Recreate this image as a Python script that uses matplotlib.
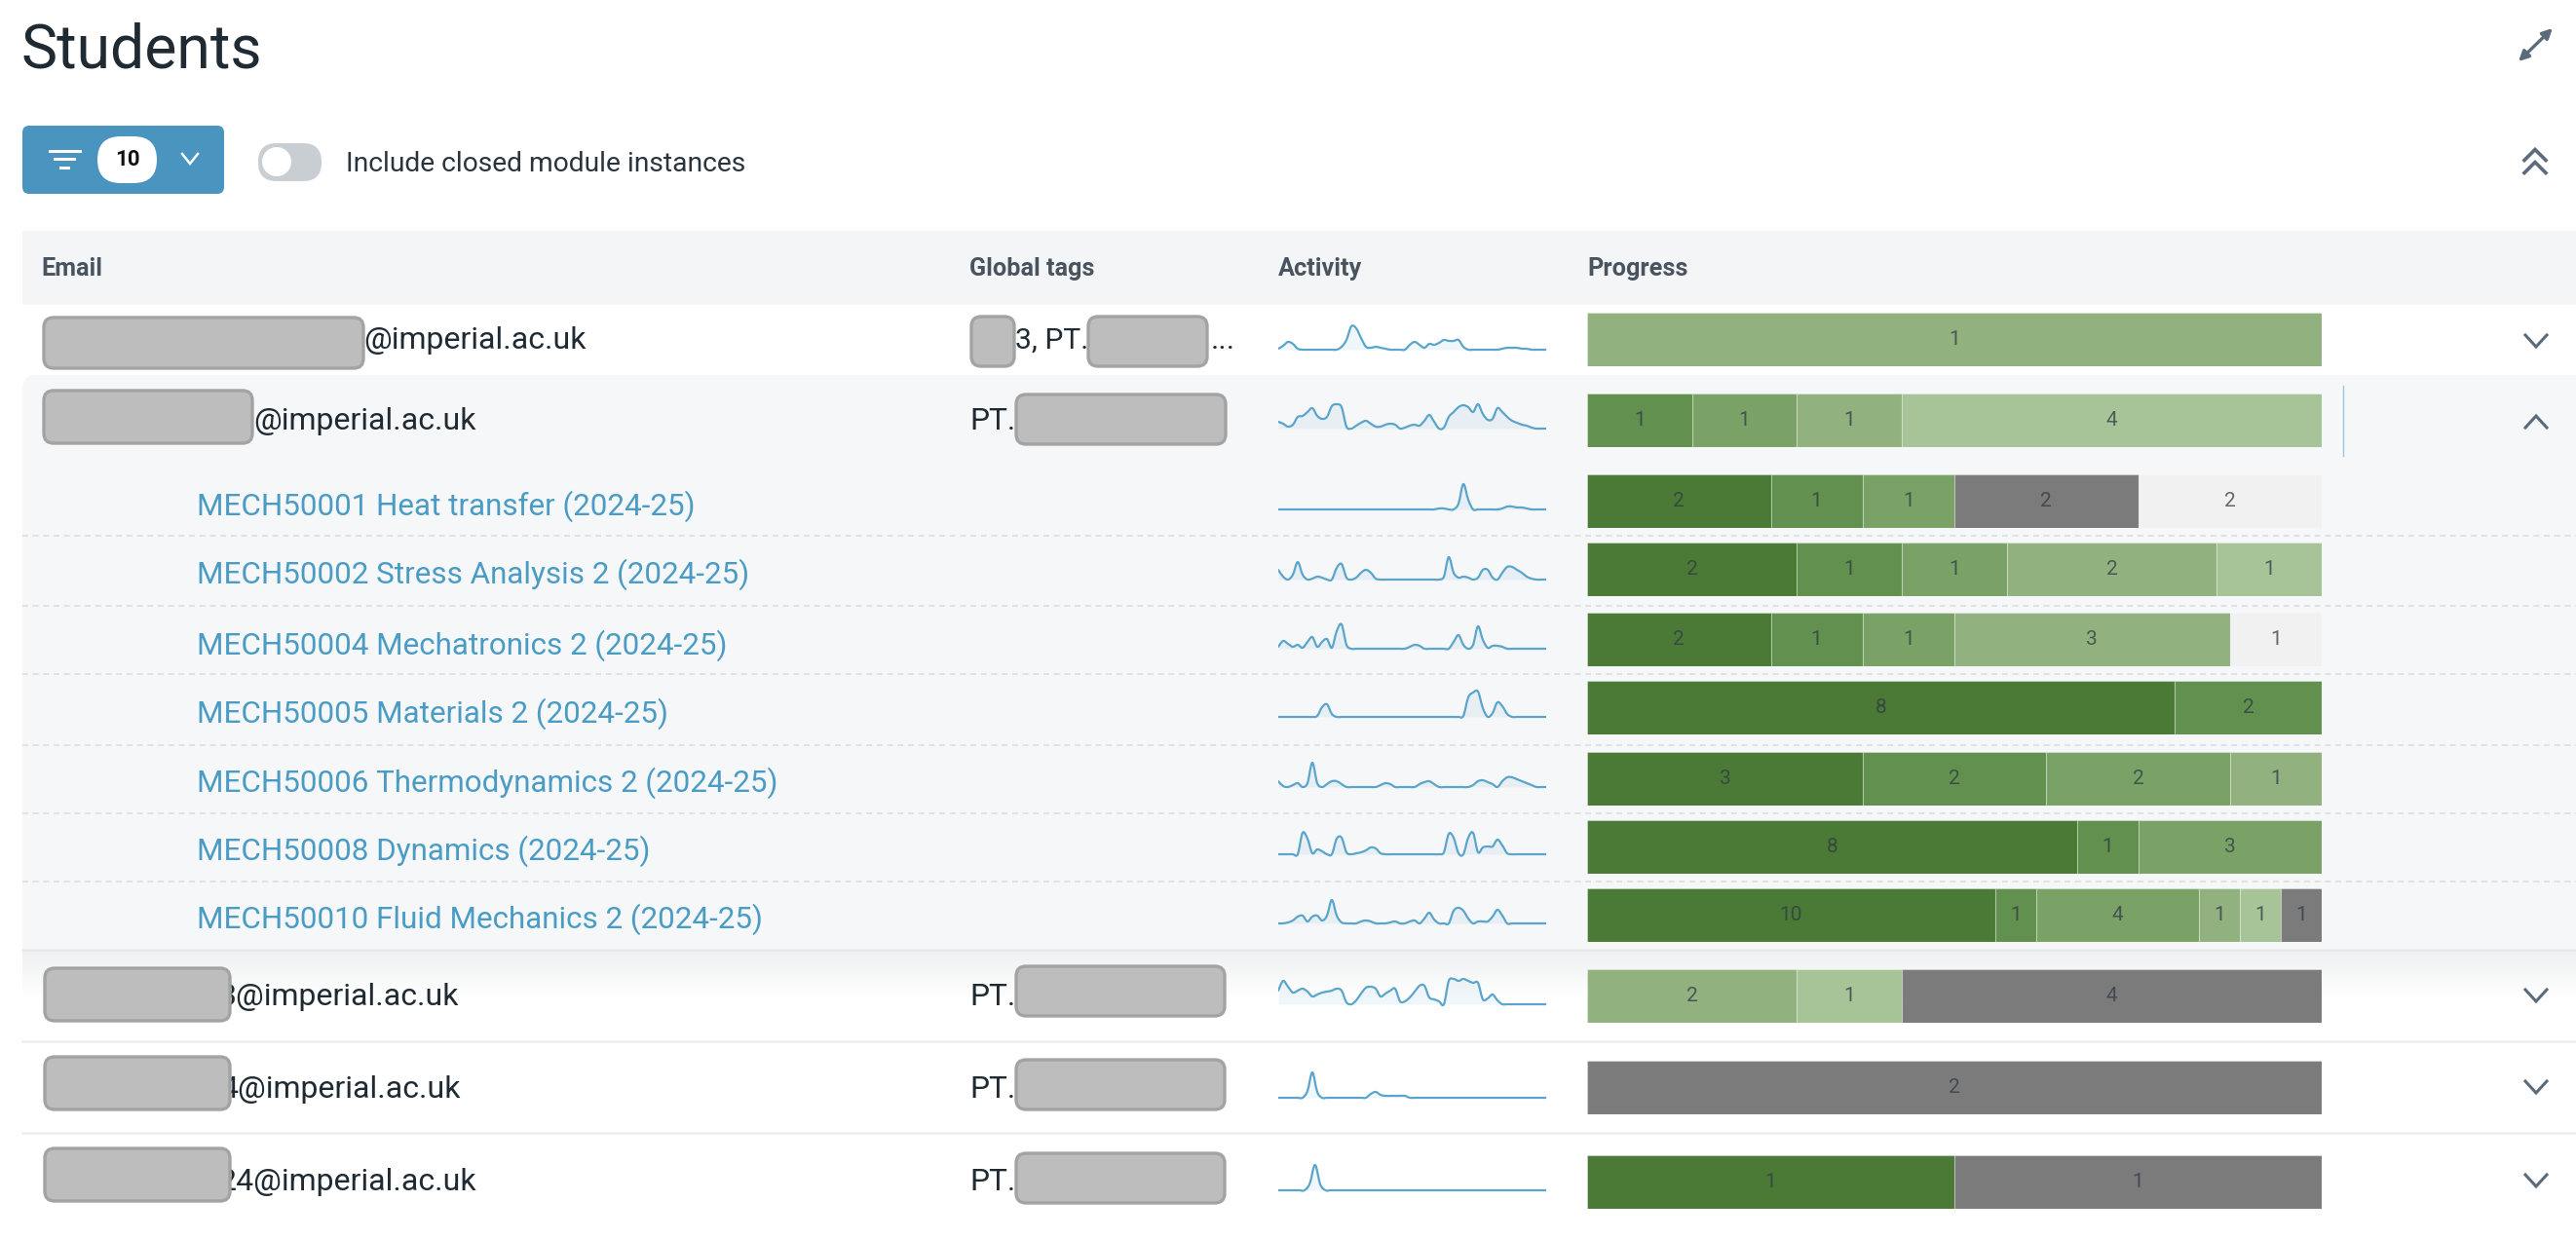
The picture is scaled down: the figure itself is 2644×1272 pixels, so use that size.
import numpy as np
import matplotlib
matplotlib.use("Agg")
import matplotlib.pyplot as plt
from matplotlib.colors import LinearSegmentedColormap
from matplotlib.patches import Circle, FancyBboxPatch, PathPatch, Rectangle
from matplotlib.path import Path

plt.rcParams['font.family'] = ['Roboto', 'DejaVu Sans']

W, H = 2644, 1272

# progress buckets, dark green to light grey
level_colors = ['#4a7a35', '#62904e', '#7aa266', '#91b27f', '#a6c497', '#7b7b7b', '#f1f1f1']

modules = [
    "MECH50001 Heat transfer (2024-25)",
    "MECH50002 Stress Analysis 2 (2024-25)",
    "MECH50004 Mechatronics 2 (2024-25)",
    "MECH50005 Materials 2 (2024-25)",
    "MECH50006 Thermodynamics 2 (2024-25)",
    "MECH50008 Dynamics (2024-25)",
    "MECH50010 Fluid Mechanics 2 (2024-25)",
]
emails = ["@imperial.ac.uk", "@imperial.ac.uk", "3@imperial.ac.uk", "4@imperial.ac.uk", "24@imperial.ac.uk"]
headers = ["Email", "Global tags", "Activity", "Progress"]

bar_counts = [
    [1],
    [1, 1, 1, 4],
    [2, 1, 1, 2, 2],
    [2, 1, 1, 2, 1],
    [2, 1, 1, 3, 1],
    [8, 2],
    [3, 2, 2, 1],
    [8, 1, 3],
    [10, 1, 4, 1, 1, 1],
    [2, 1, 4],
    [2],
    [1, 1],
]
bar_levels = [
    [3],
    [1, 2, 3, 4],
    [0, 1, 2, 5, 6],
    [0, 1, 2, 3, 4],
    [0, 1, 2, 3, 6],
    [0, 1],
    [0, 1, 2, 3],
    [0, 1, 2],
    [0, 1, 2, 3, 4, 5],
    [3, 4, 5],
    [5],
    [0, 5],
]

# activity per row
activity = [
    [1,4,8,6,1,0,0,0,0,0,0,0,0,3,10,24,22,12,3,2,3,2,1,0,0,0,0,5,8,5,2,6,5,7,10,9,9,10,3,0,0,0,0,0,0,0,1,2,2,2,1,1,0,0,0,0],
    [7,5,2,4,12,13,17,21,13,10,12,23,25,22,2,0,3,6,8,5,2,2,4,5,4,0,1,3,4,3,8,14,7,0,1,12,17,22,24,22,17,25,15,9,10,21,17,12,8,6,4,3,1,0,0,0],
    [0,0,0,0,0,0,0,0,0,0,0,0,0,0,0,0,0,0,0,0,0,0,0,0,0,0,0,0,0,0,0,0,0,1,1,0,0,6,26,10,0,0,0,0,0,0,1,3,3,2,2,1,0,0,0,0],
    [10,3,0,5,18,5,0,1,3,2,0,0,12,16,2,0,2,7,10,7,1,0,0,0,0,0,0,0,0,0,0,0,0,0,3,23,7,2,3,2,0,2,10,10,2,0,7,13,13,10,7,3,1,0,0,0],
    [2,8,5,2,4,1,7,12,2,7,10,1,18,25,4,0,0,0,0,0,0,0,0,0,0,0,0,2,4,3,0,0,0,0,0,0,7,14,4,0,4,23,9,1,3,3,2,0,0,0,0,0,0,0,0,0],
    [0,0,0,0,0,0,0,0,1,10,13,3,0,0,0,0,0,0,0,0,0,0,0,0,0,0,0,0,0,0,0,0,0,0,0,0,0,0,1,20,25,26,9,0,4,15,11,3,0,0,0,0,0,0,0,0],
    [6,1,0,2,4,0,4,25,4,0,3,6,6,3,0,0,0,0,0,0,0,2,4,3,0,0,0,0,0,3,5,6,3,0,0,0,0,0,0,0,2,6,7,5,3,0,6,10,10,8,6,4,2,0,0,0],
    [0,0,0,0,0,22,16,1,5,3,0,0,16,17,2,0,1,2,4,7,6,1,0,0,0,0,0,0,0,0,0,0,0,0,2,21,17,1,0,17,22,2,7,8,8,15,9,1,0,0,0,0,0,0,0,0],
    [0,0,1,3,7,8,2,7,8,3,8,24,8,1,0,0,0,2,3,2,0,0,0,1,2,0,0,2,3,0,5,11,4,0,0,0,13,16,13,5,0,2,2,2,7,14,8,0,0,0,0,0,0,0,0,0],
    [14,24,18,12,14,16,13,8,10,12,13,14,16,14,2,0,4,11,17,18,16,8,11,14,16,3,3,7,13,19,19,7,5,3,0,24,26,24,26,24,22,22,5,6,10,4,0,0,0,0,0,0,0,0,0,0],
    [0,0,0,0,0,0,7,26,6,0,0,0,0,0,0,0,0,0,0,4,6,3,2,2,2,2,2,0,0,0,0,0,0,0,0,0,0,0,0,0,0,0,0,0,0,0,0,0,0,0,0,0,0,0,0,0],
    [0,0,0,0,0,0,7,26,6,0,0,0,0,0,0,0,0,0,0,0,0,0,0,0,0,0,0,0,0,0,0,0,0,0,0,0,0,0,0,0,0,0,0,0,0,0,0,0,0,0,0,0],
]

# layout, pixels from the top
row_tops = [321, 404, 487, 557, 629, 699, 772, 842, 912, 995, 1089, 1186]
spark_bases = [359, 440, 523, 595, 666, 736, 808, 877, 948, 1031, 1127, 1222]
bar_h = 55
module_bases = [529, 599, 672, 742, 813, 883, 953]
dash_ys = [550, 622, 692, 765, 835, 905]
DARK = '#1f2a33'
BLUE = '#4a9cc4'
SLATE = '#5b6b7c'


def pixel_axes(x0, y0, x1, y1):
    rect = [x0 / W, 1 - y1 / H, (x1 - x0) / W, (y1 - y0) / H]
    ax = fig.add_axes(rect)
    ax.axis('off')
    ax.patch.set_alpha(0)
    return ax


def round_box(x0, y0, x1, y1, r, fc, ec='none', lw=0, z=2):
    base.add_patch(FancyBboxPatch((x0, y0), x1 - x0, y1 - y0, boxstyle=f"round,pad=0,rounding_size={r}",
                                  fc=fc, ec=ec, lw=lw, zorder=z))


def redact(x0, y0, x1, y1):
    round_box(x0, y0, x1, y1, 10, '#bdbdbd', '#a3a3a3', 2.4, z=6)


def chevron(x, y, up=False, hw=11, hh=6, color=SLATE, lw=2.2):
    s = -1 if up else 1
    base.plot([x - hw, x, x + hw], [y - s * hh, y + s * hh, y - s * hh], color=color, lw=lw, zorder=4,
              solid_joinstyle='miter')


def smooth_path(xs, ys):
    # bezier through the points, the drawn line is rounded like the original sparkline
    px = np.concatenate(([xs[0]], xs, [xs[-1]]))
    py = np.concatenate(([ys[0]], ys, [ys[-1]]))
    verts = [(xs[0], ys[0])]
    codes = [Path.MOVETO]
    for i in range(1, len(px) - 2):
        verts.append((px[i] + (px[i + 1] - px[i - 1]) / 6, py[i] + (py[i + 1] - py[i - 1]) / 6))
        verts.append((px[i + 1] - (px[i + 2] - px[i]) / 6, py[i + 1] - (py[i + 2] - py[i]) / 6))
        verts.append((px[i + 1], py[i + 1]))
        codes += [Path.CURVE4] * 3
    return Path(verts, codes)


fig = plt.figure(figsize=(W / 100, H / 100), dpi=100, facecolor='white')
base = fig.add_axes([0, 0, 1, 1])
base.set_xlim(0, W)
base.set_ylim(H, 0)
base.axis('off')

# bands
base.add_patch(Rectangle((23, 237), W - 23, 76, fc='#f4f5f7', ec='none', zorder=1))
round_box(23, 385, W + 30, 589, 14, '#f6f7f9', z=1)
base.add_patch(Rectangle((23, 420), W - 23, 554, fc='#f6f7f9', ec='none', zorder=1))
base.plot([23, W], [975, 975], color='#e6e8ea', lw=1.8, zorder=2)
shadow = LinearSegmentedColormap.from_list('shadow', ['#eff0f2', '#ffffff'])
base.imshow(np.linspace(0, 1, 60).reshape(-1, 1), extent=(23, W, 1025, 976), cmap=shadow, aspect='auto', zorder=1)
base.set_xlim(0, W)
base.set_ylim(H, 0)
for y in [1069, 1163]:
    base.plot([23, W], [y, y], color='#eceef0', lw=1.8, zorder=2)
for y in dash_ys:
    base.plot([23, W], [y, y], color='#dfe1e3', lw=1.4, ls=(0, (3, 2.5)), zorder=2)
base.plot([2405, 2405], [396, 468], color='#9cc7dd', lw=1, zorder=3)

# title and toolbar
base.text(22, 69, "Students", fontsize=45, color=DARK, va='baseline', zorder=4)
round_box(23, 129, 230, 199, 7, '#4a94c0')
round_box(100, 140, 161, 188, 24, 'white', z=3)
base.text(130.5, 164, "10", fontsize=16, fontweight='bold', color='#111111', ha='center', va='center', zorder=4)
for y, hw in [(155, 15.5), (163, 10), (172, 4)]:
    base.plot([66 - hw, 66 + hw], [y, y], color='white', lw=2.2, zorder=4)
chevron(195, 163, hw=8, hh=5, color='white', lw=1.8)
round_box(265, 147, 330, 186, 19, '#c9ced3')
base.add_patch(Circle((284, 166), 15, fc='white', ec='none', zorder=3))
base.text(355, 176, "Include closed module instances", fontsize=20.3, color='#2a343d', va='baseline', zorder=4)

# top right icons
base.annotate('', xy=(2620, 29), xytext=(2585, 63),
              arrowprops=dict(arrowstyle='<|-|>,head_length=0.6,head_width=0.3', color=SLATE, lw=2.4,
                              shrinkA=0, shrinkB=0), zorder=4)
chevron(2602, 159, up=True, lw=2.6, hh=5.5)
chevron(2602, 172, up=True, lw=2.6, hh=5.5)

# table header
for label, x in zip(headers, [42, 995, 1312, 1629]):
    base.text(x, 283, label, fontsize=18.2, fontweight='bold', color='#49545f', va='baseline', zorder=4)

# emails and tags
email_ends = [602, 489, 471, 473, 489]
email_bases = [358, 441, 1032, 1127, 1222]
for label, xe, yb in zip(emails, email_ends, email_bases):
    base.text(xe, yb, label, fontsize=23, color=DARK, ha='right', va='baseline', zorder=4)
for box in [(45, 326, 373, 378), (45, 401, 259, 455), (46, 994, 236, 1048), (46, 1085, 236, 1139), (46, 1179, 236, 1233)]:
    redact(*box)

base.text(1042, 358, "3, PT.", fontsize=21.6, color=DARK, va='baseline', zorder=4)
base.text(1243, 358, "...", fontsize=22.8, color=DARK, va='baseline', zorder=4)
for yb in [441, 1032, 1127, 1222]:
    base.text(995, yb, "PT.", fontsize=22.8, color=DARK, va='baseline', zorder=4)
for box in [(997, 325, 1041, 376), (1117, 325, 1239, 376), (1043, 405, 1258, 456),
            (1043, 992, 1257, 1043), (1043, 1088, 1257, 1139), (1043, 1184, 1257, 1235)]:
    redact(*box)

for label, yb in zip(modules, module_bases):
    base.text(202, yb, label, fontsize=22.6, color=BLUE, va='baseline', zorder=4)

# chevrons on the student rows
chevron(2603, 350)
chevron(2603, 433, up=True)
for y in [1022, 1116, 1212]:
    chevron(2603, y)

# progress bars
for top, counts, levels in zip(row_tops, bar_counts, bar_levels):
    ax = pixel_axes(1629, top, 2383, top + bar_h)
    total = sum(counts)
    left = 0
    for c, lev in zip(counts, levels):
        ax.barh(0, c, left=left, height=1, color=level_colors[lev], edgecolor=(1, 1, 1, 0.3), linewidth=0.8)
        ax.text(left + c / 2, 0, str(c), fontsize=15, color='#2f3a45', alpha=0.75, ha='center', va='center')
        left += c
    ax.set_xlim(0, total)
    ax.set_ylim(-0.5, 0.5)

# sparklines
for yb, vals in zip(spark_bases, activity):
    ax = pixel_axes(1312, yb - 36, 1587, yb + 4)
    xs = np.arange(len(vals), dtype=float)
    ys = np.array(vals, dtype=float)
    ax.fill_between(xs, 0, ys, color=BLUE, alpha=0.08, linewidth=0)
    ax.add_patch(PathPatch(smooth_path(xs, ys), fc='none', ec='#5aa5c9', lw=1.6, joinstyle='round', capstyle='round'))
    ax.set_xlim(0, len(vals) - 1)
    ax.set_ylim(-4, 36)

fig.savefig('out.png', dpi=100)
